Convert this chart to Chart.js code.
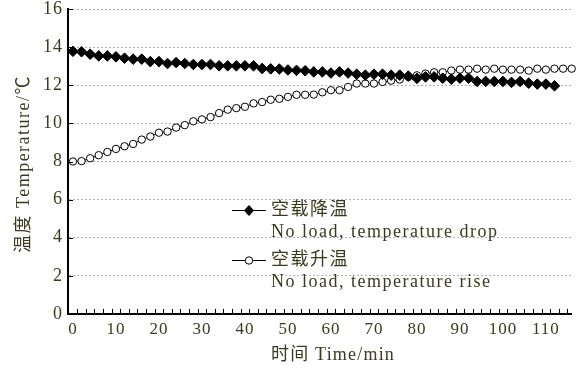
<!DOCTYPE html>
<html>
<head>
<meta charset="utf-8">
<script src="https://cdn.jsdelivr.net/npm/chart.js@4/dist/chart.umd.min.js"></script>
<style>
  html, body { margin: 0; padding: 0; background: #fff; }
  #wrap { width: 578px; height: 372px; }
</style>
</head>
<body>
<div id="wrap"><canvas id="chart" width="578" height="372"></canvas></div>
<script>
// time in minutes, one reading every 2 min
const timeMin = [0, 2, 4, 6, 8, 10, 12, 14, 16, 18, 20, 22, 24, 26, 28, 30, 32, 34, 36, 38,
  40, 42, 44, 46, 48, 50, 52, 54, 56, 58, 60, 62, 64, 66, 68, 70, 72, 74, 76, 78,
  80, 82, 84, 86, 88, 90, 92, 94, 96, 98, 100, 102, 104, 106, 108, 110, 112, 114, 116];

// no load, temperature drop (0 - 112 min)
const dropTemp = [13.78, 13.76, 13.63, 13.54, 13.54, 13.49, 13.42, 13.37, 13.37, 13.24,
  13.24, 13.14, 13.19, 13.14, 13.09, 13.09, 13.09, 13.02, 13.02, 13.02,
  13.02, 13.02, 12.88, 12.86, 12.85, 12.80, 12.78,
  12.76, 12.70, 12.70, 12.64, 12.70, 12.64, 12.58, 12.53, 12.58, 12.58,
  12.53, 12.53, 12.48, 12.36, 12.44, 12.44, 12.37, 12.32, 12.37, 12.37,
  12.20, 12.20, 12.20, 12.20, 12.15, 12.20, 12.11, 12.06, 12.06, 11.97];

// no load, temperature rise (0 - 116 min)
const riseTemp = [8.00, 8.02, 8.17, 8.33, 8.50, 8.66, 8.80, 8.92, 9.15, 9.31,
  9.51, 9.57, 9.78, 9.91, 10.11, 10.21, 10.33, 10.54, 10.72, 10.80,
  10.87, 11.05, 11.12, 11.24, 11.29, 11.39, 11.50, 11.50, 11.51, 11.63,
  11.74, 11.74, 11.91, 12.09, 12.09, 12.09, 12.17, 12.24, 12.30, 12.44,
  12.52, 12.61, 12.68, 12.68, 12.77, 12.82, 12.82, 12.87, 12.82, 12.87,
  12.82, 12.82, 12.82, 12.77, 12.87, 12.82, 12.87, 12.87, 12.87];

const xTicks = [0, 10, 20, 30, 40, 50, 60, 70, 80, 90, 100, 110];
const yTicks = [0, 2, 4, 6, 8, 10, 12, 14, 16];
// small inner ticks on the time axis
const xMinorTicks = Array.from({ length: 58 }, (_, i) => 1 + 2 * i);

const xTitle = "时间 Time/min";
const yTitle = "温度 Temperature/℃";
const legendItems = [
  { zh: "空载降温", en: "No load, temperature drop", style: "rectRot" },
  { zh: "空载升温", en: "No load, temperature rise", style: "circle" },
];

const FONT = "'Liberation Serif', 'Noto Sans CJK SC', serif";
const TEXT = "#3a3a1e";

const toPoints = (vals) => vals.map((v, i) => ({ x: timeMin[i], y: v }));

function marker(ctx, style, x, y) {
  ctx.save();
  ctx.lineWidth = 1;
  ctx.strokeStyle = "#000";
  ctx.beginPath();
  if (style === "rectRot") {
    ctx.fillStyle = "#000";
    ctx.moveTo(x, y - 5);
    ctx.lineTo(x + 4.5, y);
    ctx.lineTo(x, y + 5);
    ctx.lineTo(x - 4.5, y);
    ctx.closePath();
  } else {
    ctx.fillStyle = "#fff";
    ctx.arc(x, y, 3.7, 0, Math.PI * 2);
  }
  ctx.fill();
  ctx.stroke();
  ctx.restore();
}

const decorPlugin = {
  id: "decor",
  beforeDraw(chart) {
    chart.ctx.letterSpacing = "1px";
  },
  afterDraw(chart) {
    const { ctx, chartArea, scales } = chart;
    const xs = scales.x, ys = scales.y;
    ctx.save();
    ctx.strokeStyle = "#000";
    ctx.lineWidth = 1;
    // inner ticks
    ctx.beginPath();
    xMinorTicks.forEach(v => {
      const px = Math.round(xs.getPixelForValue(v)) + 0.5;
      ctx.moveTo(px, chartArea.bottom);
      ctx.lineTo(px, chartArea.bottom - 5);
    });
    yTicks.forEach(v => {
      const py = Math.round(ys.getPixelForValue(v)) + 0.5;
      ctx.moveTo(chartArea.left, py);
      ctx.lineTo(chartArea.left + 5, py);
    });
    ctx.stroke();

    // axis titles
    ctx.fillStyle = TEXT;
    ctx.font = "18px " + FONT;
    ctx.letterSpacing = "1.2px";
    ctx.textAlign = "center";
    ctx.textBaseline = "middle";
    ctx.fillText(xTitle, 333, 355);
    ctx.save();
    ctx.translate(24, 164);
    ctx.rotate(-Math.PI / 2);
    ctx.letterSpacing = "1.5px";
    ctx.fillText(yTitle, 0, 0);
    ctx.restore();

    // legend
    ctx.textAlign = "left";
    ctx.letterSpacing = "1.5px";
    legendItems.forEach((item, i) => {
      const y = 210.5 + i * 50;
      ctx.beginPath();
      ctx.lineWidth = 1.2;
      ctx.moveTo(232, y);
      ctx.lineTo(266, y);
      ctx.stroke();
      marker(ctx, item.style, 249, y);
      ctx.fillStyle = TEXT;
      ctx.font = "18px " + FONT;
      ctx.fillText(item.zh, 271, y);
      ctx.fillText(item.en, 271, y + 22);
    });
    ctx.restore();
  }
};

new Chart(document.getElementById("chart"), {
  type: "line",
  data: {
    datasets: [
      {
        label: legendItems[0].en,
        data: toPoints(dropTemp),
        borderColor: "#000",
        borderWidth: 1,
        backgroundColor: "#000",
        pointStyle: "rectRot",
        pointRadius: 5.3,
        pointBorderWidth: 1,
        pointBorderColor: "#000",
        pointBackgroundColor: "#000",
        clip: false,
      },
      {
        label: legendItems[1].en,
        data: toPoints(riseTemp),
        borderColor: "#000",
        borderWidth: 1,
        backgroundColor: "#fff",
        pointStyle: "circle",
        pointRadius: 3.7,
        pointBorderWidth: 1,
        pointBorderColor: "#000",
        pointBackgroundColor: "#fff",
        clip: false,
      },
    ],
  },
  options: {
    responsive: false,
    animation: false,
    layout: { padding: { top: 9, right: 6, left: 0, bottom: 0 } },
    plugins: {
      legend: { display: false },
      tooltip: { enabled: false },
    },
    scales: {
      x: {
        type: "linear",
        min: -1.15,
        max: 116,
        afterBuildTicks: (s) => { s.ticks = xTicks.map(v => ({ value: v })); },
        afterFit: (s) => { s.height = 58; s.paddingLeft = 0; s.paddingRight = 0; },
        grid: { display: false, drawTicks: false },
        border: { display: true, color: "#000", width: 2 },
        ticks: {
          color: TEXT,
          font: { family: FONT, size: 17 },
          padding: 5,
          maxRotation: 0,
          autoSkip: false,
        },
      },
      y: {
        min: 0,
        max: 16,
        afterBuildTicks: (s) => { s.ticks = yTicks.map(v => ({ value: v })); },
        afterFit: (s) => { s.width = 68; s.paddingTop = 0; s.paddingBottom = 0; },
        grid: { color: "#b0b0b0", lineWidth: 1, drawTicks: false },
        border: { display: true, color: "#000", width: 2, dash: [2, 2] },
        ticks: {
          color: TEXT,
          font: { family: FONT, size: 18 },
          padding: 5,
        },
      },
    },
  },
  plugins: [decorPlugin],
});
</script>
</body>
</html>
